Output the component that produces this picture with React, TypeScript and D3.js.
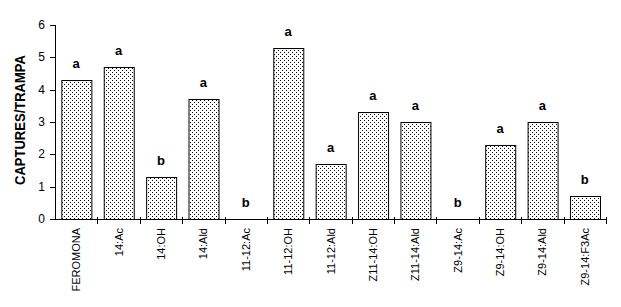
import React from "react";
import * as d3 from "d3";

const categories = ["FEROMONA", "14:Ac", "14:OH", "14:Ald", "11-12:Ac", "11-12:OH", "11-12:Ald", "Z11-14:OH", "Z11-14:Ald", "Z9-14:Ac", "Z9-14:OH", "Z9-14:Ald", "Z9-14:F3Ac"];
const values = [4.3, 4.7, 1.3, 3.7, 0, 5.3, 1.7, 3.3, 3.0, 0, 2.3, 3.0, 0.7];
const letters = ["a", "a", "b", "a", "b", "a", "a", "a", "a", "b", "a", "a", "b"];
const yTicks = [0, 1, 2, 3, 4, 5, 6];

export default function App() {
  const W = 621, H = 307;
  const left = 55, right = 606, top = 25, bottom = 219;
  const x = d3.scaleBand<string>().domain(categories).range([left, right]).paddingInner(0.3).paddingOuter(0.15);
  const xb = d3.scaleBand<string>().domain(categories).range([left, right]);
  const y = d3.scaleLinear().domain([0, 6]).range([bottom, top]);
  const font = "Arial, 'Liberation Sans', sans-serif";
  return (
    <svg width={W} height={H} style={{ position: "absolute", left: 0, top: 0, background: "#fff" }} fontFamily={font}>
      <defs>
        <pattern id="dots" width={4} height={4} patternUnits="userSpaceOnUse">
          <rect width={4} height={4} fill="#fff" />
          <rect x={0} y={0} width={1} height={1} fill="#000" />
          <rect x={2} y={2} width={1} height={1} fill="#000" />
        </pattern>
      </defs>
      {categories.map((c, i) => {
        const bx = x(c)!;
        const bw = x.bandwidth();
        const by = y(values[i]);
        return (
          <g key={c}>
            {values[i] > 0 && (
              <rect x={bx + 0.5} y={Math.round(by) + 0.5} width={Math.round(bw)} height={bottom - Math.round(by)} fill="url(#dots)" stroke="#000" strokeWidth={1} />
            )}
            <text x={xb(c)! + xb.bandwidth() / 2} y={by - 12} textAnchor="middle" fontSize={13} fontWeight="bold">{letters[i]}</text>
            <text transform={`translate(${xb(c)! + xb.bandwidth() / 2 + 4},228) rotate(-90)`} textAnchor="end" fontSize={11}>{c}</text>
          </g>
        );
      })}
      <line x1={left + 0.5} x2={left + 0.5} y1={top} y2={bottom + 0.5} stroke="#000" />
      <line x1={left} x2={right + 1} y1={bottom + 0.5} y2={bottom + 0.5} stroke="#000" />
      {yTicks.map((t) => (
        <g key={t}>
          <line x1={left - 5} x2={left} y1={Math.round(y(t)) + 0.5} y2={Math.round(y(t)) + 0.5} stroke="#000" />
          <text x={left - 10} y={y(t) + 4} textAnchor="end" fontSize={12}>{t}</text>
        </g>
      ))}
      {categories.map((c) => (
        <line key={"t" + c} x1={Math.round(xb(c)! + xb.bandwidth()) + 0.5} x2={Math.round(xb(c)! + xb.bandwidth()) + 0.5} y1={bottom - 2} y2={bottom + 5} stroke="#000" />
      ))}
      <text transform={`translate(25,120) rotate(-90)`} textAnchor="middle" fontSize={14} fontWeight="bold" textLength={130} lengthAdjust="spacingAndGlyphs">CAPTURES/TRAMPA</text>
    </svg>
  );
}
